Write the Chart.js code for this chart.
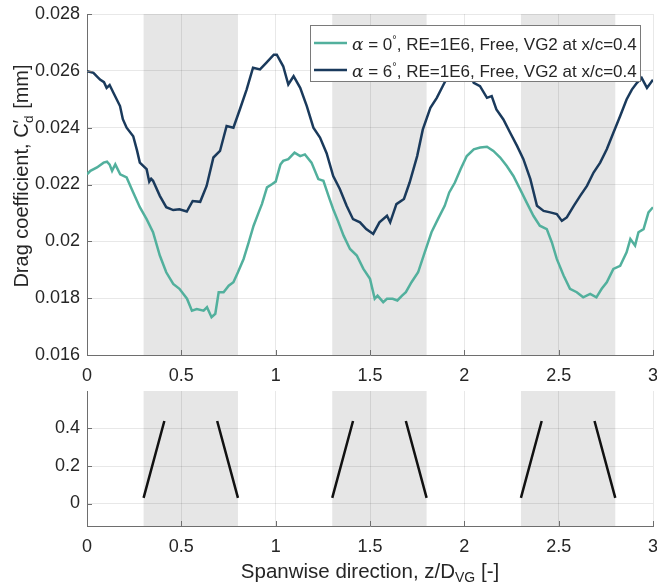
<!DOCTYPE html>
<html>
<head>
<meta charset="utf-8">
<title>Drag coefficient</title>
<script src="https://cdn.jsdelivr.net/npm/chart.js@4/dist/chart.umd.min.js"></script>
<style>
  html, body { margin: 0; padding: 0; background: #fff; }
  #wrap { position: relative; width: 657px; height: 583px; }
  canvas { position: absolute; left: 0; display: block; }
  #top { top: 0; }
  #bottom { top: 383px; }
</style>
</head>
<body>
<div id="wrap">
  <canvas id="top" width="657" height="383"></canvas>
  <canvas id="bottom" width="657" height="200"></canvas>
</div>
<script>
const FONT = "'Liberation Sans', Arial, Helvetica, sans-serif"
const TEXT = '#262626'
const AXIS = '#6e6e6e'
const GRID = 'rgba(0,0,0,0.09)'
const SHADE = '#e6e6e6'

// spanwise bands where the vane pairs sit
const shadeBands = [[0.3, 0.8], [1.3, 1.8], [2.3, 2.8]]
const xTicks = [0, 0.5, 1, 1.5, 2, 2.5, 3]
const cdTicks = [0.016, 0.018, 0.02, 0.022, 0.024, 0.026, 0.028]
const vgTicks = [0, 0.2, 0.4]

const seriesAlpha = [0, 6]
const seriesSuffix = ', RE=1E6, Free, VG2 at x/c=0.4'
const seriesColors = ['#52b09d', '#1a3a5c']

// alpha = 0 deg
const alpha0X = [0, 0.018, 0.053, 0.088, 0.106, 0.12, 0.133, 0.15, 0.176, 0.21, 0.245, 0.28, 0.316, 0.35, 0.386,
  0.42, 0.457, 0.49, 0.53, 0.556, 0.582, 0.618, 0.636, 0.66, 0.68, 0.698, 0.724, 0.751, 0.776, 0.8, 0.83, 0.857,
  0.883, 0.91, 0.927, 0.954, 0.98, 1.0, 1.025, 1.04, 1.067, 1.1, 1.13, 1.155, 1.19, 1.226, 1.253, 1.28, 1.305,
  1.33, 1.36, 1.394, 1.43, 1.465, 1.5, 1.525, 1.54, 1.57, 1.59, 1.62, 1.645, 1.67, 1.69, 1.72, 1.755, 1.79, 1.826,
  1.86, 1.896, 1.92, 1.95, 1.98, 2.013, 2.05, 2.084, 2.12, 2.154, 2.19, 2.225, 2.26, 2.296, 2.33, 2.366, 2.4,
  2.437, 2.464, 2.49, 2.526, 2.56, 2.596, 2.63, 2.667, 2.7, 2.728, 2.755, 2.79, 2.826, 2.86, 2.88, 2.905, 2.923,
  2.95, 2.976, 3.0]
const alpha0Y = [0.02236, 0.02248, 0.0226, 0.02277, 0.0228, 0.0227, 0.02248, 0.02271, 0.02236, 0.02225, 0.02172,
  0.0212, 0.02078, 0.02032, 0.0195, 0.01891, 0.0185, 0.01833, 0.01798, 0.01756, 0.01762, 0.01756, 0.01768, 0.01733,
  0.01745, 0.01821, 0.01821, 0.01844, 0.01856, 0.01891, 0.01938, 0.01996, 0.02055, 0.02102, 0.02131, 0.0219,
  0.02201, 0.0221, 0.0227, 0.02283, 0.02289, 0.02312, 0.023, 0.02306, 0.02277, 0.02219, 0.02213, 0.0216, 0.02113,
  0.02072, 0.0202, 0.01973, 0.0195, 0.01903, 0.01868, 0.01798, 0.01809, 0.01786, 0.01798, 0.01798, 0.01792,
  0.01809, 0.01821, 0.01856, 0.01891, 0.01961, 0.02032, 0.02078, 0.02125, 0.02172, 0.02207, 0.02254, 0.023,
  0.02324, 0.0233, 0.02333, 0.02318, 0.02295, 0.02265, 0.0223, 0.02183, 0.02137, 0.0209, 0.02055, 0.02043,
  0.01996, 0.01938, 0.0188, 0.01833, 0.01821, 0.01803, 0.01815, 0.01803, 0.01833, 0.01856, 0.01903, 0.01914,
  0.01961, 0.02008, 0.01985, 0.02032, 0.02043, 0.02102, 0.0212]

// alpha = 6 deg
const alpha6X = [0, 0.034, 0.069, 0.09, 0.104, 0.12, 0.14, 0.175, 0.19, 0.21, 0.245, 0.265, 0.28, 0.316, 0.33, 0.34,
  0.35, 0.386, 0.42, 0.457, 0.49, 0.529, 0.56, 0.6, 0.634, 0.67, 0.705, 0.74, 0.776, 0.81, 0.846, 0.88, 0.917,
  0.95, 0.99, 1.006, 1.04, 1.067, 1.095, 1.13, 1.165, 1.2, 1.235, 1.27, 1.305, 1.34, 1.376, 1.41, 1.447, 1.48,
  1.517, 1.55, 1.59, 1.607, 1.64, 1.68, 1.71, 1.75, 1.78, 1.82, 1.854, 1.89, 1.92, 1.95, 1.98, 2.01, 2.05, 2.083,
  2.12, 2.145, 2.17, 2.207, 2.243, 2.28, 2.313, 2.35, 2.385, 2.42, 2.455, 2.49, 2.517, 2.543, 2.58, 2.614, 2.65,
  2.685, 2.72, 2.755, 2.79, 2.826, 2.86, 2.888, 2.915, 2.94, 2.968, 3.0]
const alpha6Y = [0.02599, 0.02593, 0.02569, 0.0256, 0.0254, 0.0255, 0.02523, 0.02476, 0.0243, 0.024, 0.0237,
  0.0232, 0.02277, 0.02254, 0.0221, 0.0222, 0.02213, 0.0216, 0.0212, 0.0211, 0.02113, 0.02105, 0.02142, 0.02139,
  0.02195, 0.02295, 0.02318, 0.02406, 0.024, 0.02464, 0.02534, 0.02611, 0.02605, 0.02628, 0.02657, 0.02657,
  0.02616, 0.02552, 0.02581, 0.0254, 0.02476, 0.024, 0.02365, 0.0231, 0.0223, 0.02184, 0.02125, 0.02078, 0.02067,
  0.02043, 0.02026, 0.02067, 0.0209, 0.02067, 0.02131, 0.02149, 0.02207, 0.023, 0.02394, 0.0247, 0.02505, 0.02552,
  0.0259, 0.0262, 0.0264, 0.0262, 0.02558, 0.02546, 0.02505, 0.02511, 0.02464, 0.02429, 0.02382, 0.02335, 0.02289,
  0.02219, 0.02125, 0.02107, 0.02102, 0.02096, 0.02072, 0.02084, 0.02125, 0.0216, 0.02195, 0.02242, 0.02277,
  0.02324, 0.02382, 0.02441, 0.02499, 0.02534, 0.02558, 0.02575, 0.0254, 0.02569]

// vortex generator vanes (null y breaks the line between vanes)
const vgX = [0.30, 0.41, 0.55, 0.69, 0.80, 1.05, 1.30, 1.41, 1.55, 1.69, 1.80, 2.05, 2.30, 2.41, 2.55, 2.69, 2.80]
const vgY = [0.03, 0.44, null, 0.44, 0.03, null, 0.03, 0.44, null, 0.44, 0.03, null, 0.03, 0.44, null, 0.44, 0.03]

const pts = (xs, ys) => xs.map((x, i) => ({ x, y: ys[i] }))
const fmt = v => String(+Number(v).toFixed(4))

const shadePlugin = {
    id: 'shade',
    beforeDraw(chart) {
        const { ctx, chartArea: a, scales } = chart
        ctx.save()
        ctx.fillStyle = SHADE
        shadeBands.forEach(([x0, x1]) => {
            const p0 = scales.x.getPixelForValue(x0)
            const p1 = scales.x.getPixelForValue(x1)
            ctx.fillRect(p0, a.top, p1 - p0, a.bottom - a.top)
        })
        ctx.restore()
    },
}

// MATLAB style inward tick marks
const tickPlugin = {
    id: 'inTicks',
    afterDraw(chart) {
        const { ctx, chartArea: a, scales } = chart
        ctx.save()
        ctx.strokeStyle = AXIS
        ctx.lineWidth = 1
        ctx.beginPath()
        scales.x.ticks.forEach(t => {
            const p = Math.round(scales.x.getPixelForValue(t.value)) + 0.5
            ctx.moveTo(p, a.bottom)
            ctx.lineTo(p, a.bottom - 5)
        })
        scales.y.ticks.forEach(t => {
            const p = Math.round(scales.y.getPixelForValue(t.value)) + 0.5
            ctx.moveTo(a.left, p)
            ctx.lineTo(a.left + 5, p)
        })
        ctx.stroke()
        ctx.restore()
    },
}

// draws a run of text pieces: [text, font, dy]
function drawPieces(ctx, pieces, x, y) {
    pieces.forEach(([s, f, dy]) => {
        ctx.font = f
        ctx.fillText(s, x, y + (dy || 0))
        x += ctx.measureText(s).width
    })
    return x
}
function piecesWidth(ctx, pieces) {
    let w = 0
    pieces.forEach(([s, f]) => {
        ctx.font = f
        w += ctx.measureText(s).width
    })
    return w
}

const legendPlugin = {
    id: 'boxLegend',
    afterDatasetsDraw(chart) {
        const { ctx } = chart
        const bx = 310.5, by = 25.5, bw = 330, bh = 56
        ctx.save()
        ctx.fillStyle = '#fff'
        ctx.fillRect(bx, by, bw, bh)
        ctx.strokeStyle = '#7a7a7a'
        ctx.lineWidth = 1
        ctx.strokeRect(bx, by, bw, bh)
        seriesAlpha.forEach((a, i) => {
            const y = 43 + i * 27
            ctx.strokeStyle = seriesColors[i]
            ctx.lineWidth = 2.5
            ctx.beginPath()
            ctx.moveTo(314, y)
            ctx.lineTo(347, y)
            ctx.stroke()
            ctx.fillStyle = TEXT
            ctx.textBaseline = 'alphabetic'
            drawPieces(ctx, [
                ['α', "italic 17px 'DejaVu Serif', serif"],
                [' = ' + a, '17px ' + FONT],
                ['°', '11px ' + FONT, -7],
                [seriesSuffix, '17px ' + FONT],
            ], 352, y + 7)
        })
        ctx.restore()
    },
}

const yTitlePlugin = {
    id: 'yTitle',
    afterDraw(chart) {
        const f = '20px ' + FONT
        const fs = '13.5px ' + FONT
        const { ctx } = chart
        ctx.save()
        ctx.translate(28, 176)
        ctx.rotate(-Math.PI / 2)
        ctx.fillStyle = TEXT
        ctx.textBaseline = 'alphabetic'
        const head = 'Drag coefficient, C'
        const tail = ' [mm]'
        ctx.font = f
        const w = ctx.measureText(head).width + 9 + ctx.measureText(tail).width
        let x = -w / 2
        ctx.fillText(head, x, 0)
        x += ctx.measureText(head).width
        ctx.fillText('′', x, -1)
        ctx.font = fs
        ctx.fillText('d', x + 0.5, 5)
        x += 9
        ctx.font = f
        ctx.fillText(tail, x, 0)
        ctx.restore()
    },
}

const xTitlePlugin = {
    id: 'xTitle',
    afterDraw(chart) {
        const { ctx, chartArea: a } = chart
        const pieces = [
            ['Spanwise direction, z/D', '20.5px ' + FONT],
            ['VG', '14px ' + FONT, 4],
            [' [-]', '20.5px ' + FONT],
        ]
        ctx.save()
        ctx.fillStyle = TEXT
        ctx.textBaseline = 'alphabetic'
        const w = piecesWidth(ctx, pieces)
        drawPieces(ctx, pieces, (a.left + a.right) / 2 - w / 2, 195)
        ctx.restore()
    },
}

const tickFont = { family: FONT, size: 18 }

function xScale(h) {
    return {
        type: 'linear',
        min: 0,
        max: 3,
        afterBuildTicks: axis => { axis.ticks = xTicks.map(value => ({ value })) },
        afterFit: axis => {
            axis.height = h
            axis.paddingLeft = 0
            axis.paddingRight = 0
        },
        ticks: { color: TEXT, font: tickFont, padding: 10, maxRotation: 0, callback: fmt },
        grid: { color: GRID, drawTicks: false },
        border: { color: AXIS, width: 1 },
    }
}

function yScale(min, max, list) {
    return {
        type: 'linear',
        min,
        max,
        afterBuildTicks: axis => { axis.ticks = list.map(value => ({ value })) },
        afterFit: axis => {
            axis.width = 87
            axis.paddingTop = 0
            axis.paddingBottom = 0
        },
        ticks: { color: TEXT, font: tickFont, padding: 7, callback: fmt },
        grid: { color: GRID, drawTicks: false },
        border: { color: AXIS, width: 1 },
    }
}

const topChart = new Chart('top', {
    type: 'line',
    data: {
        datasets: seriesAlpha.map((a, i) => ({
            label: 'α = ' + a + '°' + seriesSuffix,
            data: i === 0 ? pts(alpha0X, alpha0Y) : pts(alpha6X, alpha6Y),
            borderColor: seriesColors[i],
            borderWidth: 2.5,
            pointRadius: 0,
            tension: 0,
            fill: false,
        })),
    },
    options: {
        responsive: false,
        animation: false,
        layout: { padding: { top: 14, right: 4, left: 0, bottom: 0 } },
        plugins: { legend: { display: false }, tooltip: { enabled: false } },
        scales: {
            x: xScale(28),
            y: yScale(0.016, 0.028, cdTicks),
        },
    },
    plugins: [shadePlugin, tickPlugin, legendPlugin, yTitlePlugin],
})

const bottomChart = new Chart('bottom', {
    type: 'line',
    data: {
        datasets: [{
            label: 'VG',
            data: pts(vgX, vgY),
            borderColor: '#111',
            borderWidth: 2.5,
            pointRadius: 0,
            tension: 0,
            spanGaps: false,
            fill: false,
        }],
    },
    options: {
        responsive: false,
        animation: false,
        layout: { padding: { top: 8, right: 4, left: 0, bottom: 0 } },
        plugins: { legend: { display: false }, tooltip: { enabled: false } },
        scales: {
            x: xScale(57),
            y: yScale(-0.12, 0.6, vgTicks),
        },
    },
    plugins: [shadePlugin, tickPlugin, xTitlePlugin],
})
</script>
</body>
</html>
